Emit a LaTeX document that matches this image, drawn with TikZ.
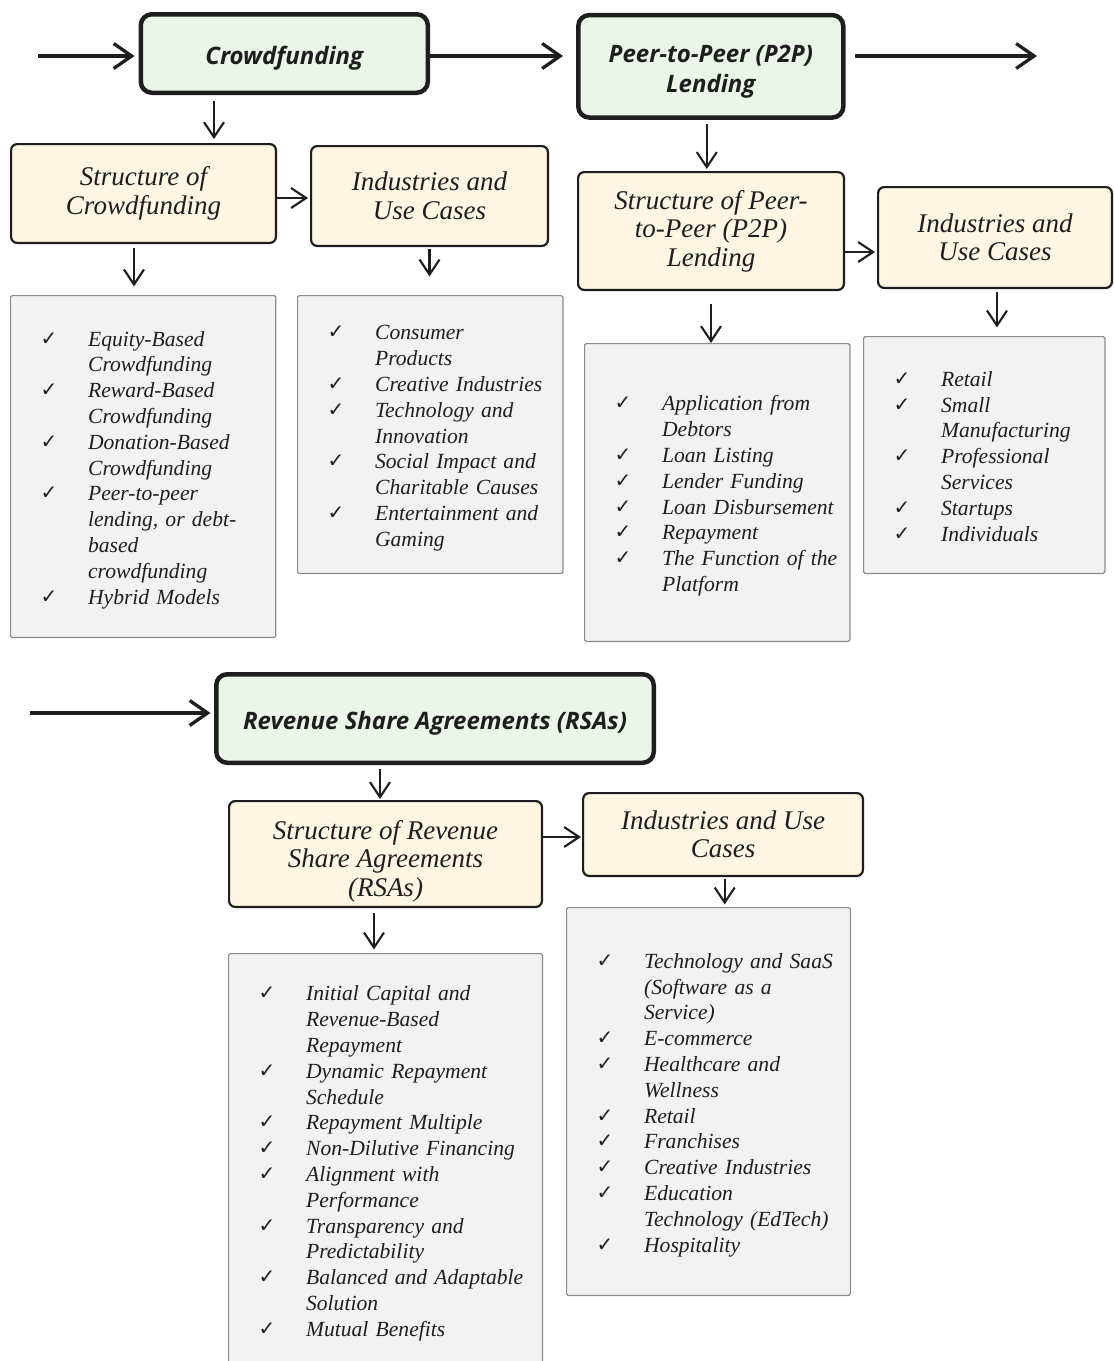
\documentclass[tikz,border=0pt]{standalone}
\usepackage{fontspec}
\setmainfont{Liberation Serif}
\newfontfamily\headfont{Open Sans}
\newfontfamily\symfont{DejaVu Sans}
\usetikzlibrary{arrows.meta}
\definecolor{boxG}{RGB}{235,245,233}
\definecolor{boxY}{RGB}{254,246,227}
\definecolor{boxS}{RGB}{242,242,242}
\definecolor{lineK}{RGB}{30,30,30}
\definecolor{lineS}{RGB}{140,140,140}
\newcommand{\ck}{\makebox[47.5pt][l]{\raisebox{1pt}{\symfont\fontsize{20}{20}\selectfont ✓}}}
\newcommand{\cn}{\hspace*{47.5pt}}
\newcommand{\checks}[1]{\noindent\raisebox{-3.5pt}[\height][\depth]{\begin{tabular}{@{}l@{}}#1\end{tabular}}}
\newcommand{\topgap}[1]{\rule{0pt}{#1}}

\begin{document}
\begin{tikzpicture}[x=1pt,y=-1pt,
  mainbox/.style={draw=lineK,line width=4.5pt,rounded corners=11pt,fill=boxG,text=lineK,align=center,inner sep=0pt,font=\headfont\bfseries\itshape\fontsize{24}{30}\selectfont},
  subbox/.style={draw=lineK,line width=2.2pt,rounded corners=6pt,fill=boxY,text=lineK,align=center,inner sep=0pt,font=\itshape\fontsize{27}{28.5}\selectfont},
  listbox/.style={draw=lineS,line width=1.2pt,rounded corners=1.5pt,fill=boxS,text=lineK,inner xsep=30pt,inner ysep=0pt,font=\itshape\fontsize{21.6}{25.8}\selectfont},
  flow/.style={draw=lineK,line width=3.3pt,-{Straight Barb[length=18pt,width=25pt]}},
  link/.style={draw=lineK,line width=2.1pt,-{Straight Barb[length=15pt,width=20pt]}}]
\useasboundingbox (0,0) rectangle (1114,1361);
% top row: crowdfunding and P2P lending
\node[mainbox,minimum width=287pt,minimum height=78.5pt] (cf) at (284.3,53.5) {\topgap{28pt}Crowdfunding};
\node[mainbox,minimum width=265pt,minimum height=102.5pt] (p2p) at (710.8,66.3) {\topgap{29pt}Peer-to-Peer (P2P)\\Lending};
\node[subbox,minimum width=264.8pt,minimum height=98.8pt] (scf) at (143.5,193.5) {Structure of\\Crowdfunding};
\node[subbox,minimum width=236.8pt,minimum height=99.8pt] (ind1) at (429.5,196) {Industries and\\Use Cases};
\node[subbox,minimum width=265.8pt,minimum height=117.8pt] (sp2p) at (711,231) {Structure of Peer-\\to-Peer (P2P)\\Lending};
\node[subbox,minimum width=233.8pt,minimum height=100.8pt] (ind2) at (995,237.5) {Industries and\\Use Cases};
\node[listbox,minimum width=265.2pt,minimum height=341.8pt,text width=205.2pt] (lst1) at (143.2,466.5) {\checks{\ck Equity-Based\\\cn Crowdfunding\\\ck Reward-Based\\\cn Crowdfunding\\\ck Donation-Based\\\cn Crowdfunding\\\ck Peer-to-peer\\\cn lending, or debt-\\\cn based\\\cn crowdfunding\\\ck Hybrid Models}};
\node[listbox,minimum width=265.4pt,minimum height=277.8pt,text width=205.4pt] (lst2) at (430.3,434.5) {\checks{\ck Consumer\\\cn Products\\\ck Creative Industries\\\ck Technology and\\\cn Innovation\\\ck Social Impact and\\\cn Charitable Causes\\\ck Entertainment and\\\cn Gaming}};
\node[listbox,minimum width=265.3pt,minimum height=297.8pt,text width=205.3pt] (lst3) at (717.25,492.5) {\checks{\ck Application from\\\cn Debtors\\\ck Loan Listing\\\ck Lender Funding\\\ck Loan Disbursement\\\ck Repayment\\\ck The Function of the\\\cn Platform}};
\node[listbox,minimum width=241.3pt,minimum height=236.8pt,text width=181.3pt] (lst4) at (984.25,455) {\checks{\ck Retail\\\ck Small\\\cn Manufacturing\\\ck Professional\\\cn Services\\\ck Startups\\\ck Individuals}};
\coordinate (in1) at (38,56); \coordinate (out1) at (1037,56);
\draw[flow,shorten >=4pt] (in1) -- (in1 -| cf.west);
\draw[flow,shorten >=13pt] (cf.east |- in1) -- (p2p.west |- in1);
\draw[flow,shorten <=9.5pt] (p2p.east |- in1) -- (out1);
\draw[link,shorten <=6pt,shorten >=4pt] ([xshift=-70.3pt]cf.south) -- ([xshift=-70.3pt]cf.south |- scf.north);
\draw[link,shorten >=2pt] ([yshift=-4.5pt]scf.east) -- ([yshift=-4.5pt]scf.east -| ind1.west);
\draw[link,shorten <=4pt,shorten >=8.6pt] ([xshift=-9.5pt]scf.south) -- ([xshift=-9.5pt]scf.south |- lst1.north);
\draw[link,shorten <=2pt,shorten >=18.6pt] (ind1.south) -- (ind1.south |- lst2.north);
\draw[link,shorten <=4pt,shorten >=2pt] ([xshift=-4pt]p2p.south) -- ([xshift=-4pt]p2p.south |- sp2p.north);
\draw[link,shorten >=2pt] ([yshift=-21pt]sp2p.east) -- ([yshift=-21pt]sp2p.east -| ind2.west);
\draw[link,shorten <=13pt] (sp2p.south) -- (sp2p.south |- lst3.north);
\draw[link,shorten <=3pt,shorten >=8.6pt] ([xshift=2pt]ind2.south) -- ([xshift=2pt]ind2.south |- lst4.north);
% bottom row: revenue share agreements
\node[mainbox,minimum width=437.5pt,minimum height=88.5pt] (rsa) at (435,718.5) {\topgap{28pt}Revenue Share Agreements (RSAs)};
\node[subbox,minimum width=312.8pt,minimum height=105.8pt] (srsa) at (385.5,854) {\topgap{33pt}Structure of Revenue\\Share Agreements\\(RSAs)};
\node[subbox,minimum width=279.8pt,minimum height=82.8pt] (ind3) at (723,834.5) {Industries and Use\\Cases};
\node[listbox,minimum width=313.8pt,minimum height=412.8pt,text width=253.8pt] (lst5) at (385.5,1160) {\checks{\ck Initial Capital and\\\cn Revenue-Based\\\cn Repayment\\\ck Dynamic Repayment\\\cn Schedule\\\ck Repayment Multiple\\\ck Non-Dilutive Financing\\\ck Alignment with\\\cn Performance\\\ck Transparency and\\\cn Predictability\\\ck Balanced and Adaptable\\\cn Solution\\\ck Mutual Benefits}};
\node[listbox,minimum width=283.8pt,minimum height=387.8pt,text width=223.8pt] (lst6) at (708.5,1101.5) {\checks{\ck Technology and SaaS\\\cn (Software as a\\\cn Service)\\\ck E-commerce\\\ck Healthcare and\\\cn Wellness\\\ck Retail\\\ck Franchises\\\ck Creative Industries\\\ck Education\\\cn Technology (EdTech)\\\ck Hospitality}};
\coordinate (in2) at (30,713);
\draw[flow,shorten >=3.5pt] (in2) -- (in2 -| rsa.west);
\draw[link,shorten <=4pt,shorten >=1pt] ([xshift=-55pt]rsa.south) -- ([xshift=-55pt]rsa.south |- srsa.north);
\draw[link,shorten >=1pt] ([yshift=17pt]srsa.east) -- ([yshift=17pt]srsa.east -| ind3.west);
\draw[link,shorten <=5pt,shorten >=3.6pt] ([xshift=-11.5pt]srsa.south) -- ([xshift=-11.5pt]srsa.south |- lst5.north);
\draw[link,shorten <=2pt,shorten >=2.6pt] ([xshift=1.7pt]ind3.south) -- ([xshift=1.7pt]ind3.south |- lst6.north);
\end{tikzpicture}
\end{document}
